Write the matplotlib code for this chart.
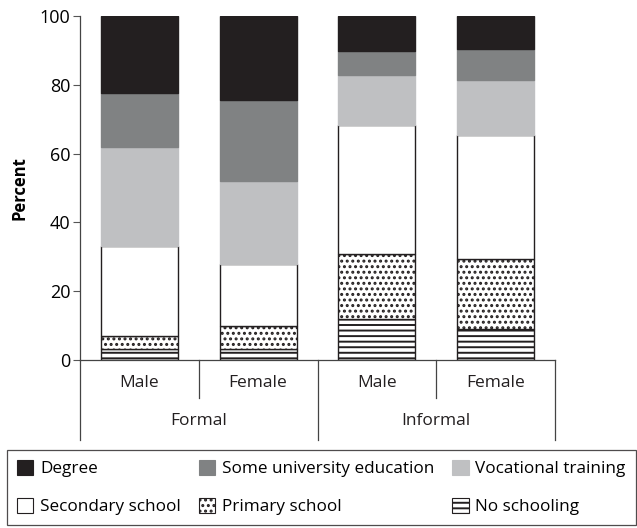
import matplotlib
matplotlib.use("Agg")
import matplotlib.pyplot as plt
from matplotlib.patches import Patch
from matplotlib.lines import Line2D
from matplotlib import font_manager

# ---- data ----
groups = ["Formal", "Informal"]
sexes = ["Male", "Female"]
series_names = ["No schooling", "Primary school", "Secondary school",
                "Vocational training", "Some university education", "Degree"]
no_schooling = [3.2, 3.2, 11.9, 8.9]
primary = [3.9, 6.8, 18.9, 20.4]
secondary = [25.9, 18.0, 37.5, 36.2]
vocational = [29.0, 23.9, 14.5, 16.0]
some_univ = [15.7, 23.8, 7.0, 9.0]
degree = [22.3, 24.3, 10.2, 9.5]
yticks = [0, 20, 40, 60, 80, 100]

# ---- fonts ----
avail = {f.name for f in font_manager.fontManager.ttflist}
fam = "Liberation Sans Narrow" if "Liberation Sans Narrow" in avail else "Open Sans"
plt.rcParams["font.family"] = [fam, "DejaVu Sans"]
plt.rcParams["hatch.linewidth"] = 1.4

fig = plt.figure(figsize=(6.37, 5.28), dpi=100)
W, H = 637, 528
ax = fig.add_axes([80 / W, (H - 360) / H, (555 - 80) / W, (360 - 16) / H])

ink = "#231f20"
values = [no_schooling, primary, secondary, vocational, some_univ, degree]
faces = ["white", "white", "white", "#bfc0c2", "#808283", ink]
edges = [ink, ink, ink, "#bfc0c2", "#808283", ink]
hatches = ["---", "...", None, None, None, None]

x = list(range(4))
bottom = [0.0] * 4
handles = {}
for name, vals, fc, ec, hc in zip(series_names, values, faces, edges, hatches):
    ax.bar(x, vals, width=0.65, bottom=bottom, color=fc, edgecolor=ec,
           hatch=hc, linewidth=1.0, label=name)
    handles[name] = Patch(facecolor=fc, edgecolor=ec if fc != "white" else ink,
                          hatch=hc, linewidth=0.8)
    bottom = [bb + v for bb, v in zip(bottom, vals)]

ax.set_xlim(-0.5, 3.5)
ax.set_ylim(0, 100)
ax.set_yticks(yticks)
ax.tick_params(axis="y", labelsize=13, length=5, width=0.8, color="#555555", pad=2)
ax.set_xticks([])
for s in ["top", "right"]:
    ax.spines[s].set_visible(False)
for s in ["left", "bottom"]:
    ax.spines[s].set_color("#444444")
    ax.spines[s].set_linewidth(0.9)
ax.set_ylabel("Percent", fontsize=12, fontweight="bold", labelpad=8)

# category axis
labels_inner = [s for g in groups for s in sexes]
trans = ax.get_xaxis_transform()
def ypx(p):
    return (360 - p) / (360 - 16)
for i, lab in enumerate(labels_inner):
    ax.text(i, ypx(383), lab, transform=trans, ha="center", va="center",
            fontsize=12.5, color=ink, clip_on=False)
for j, g in enumerate(groups):
    ax.text(2 * j + 0.5, ypx(421), g, transform=trans, ha="center", va="center",
            fontsize=12.5, color=ink, clip_on=False)
for xv in [-0.5, 1.5, 3.5]:
    ax.add_line(Line2D([xv, xv], [0, ypx(440)], transform=trans, color="#444444",
                       lw=0.9, clip_on=False))
for xv in [0.5, 2.5]:
    ax.add_line(Line2D([xv, xv], [0, ypx(398)], transform=trans, color="#444444",
                       lw=0.9, clip_on=False))

# legend (row-wise order)
order = ["Degree", "Secondary school", "Some university education",
         "Primary school", "Vocational training", "No schooling"]
leg = fig.legend([handles[n] for n in order], order, ncol=3,
                 loc="upper left", bbox_to_anchor=(7 / W, (H - 450) / H),
                 frameon=True, fancybox=False, fontsize=12.3,
                 handlelength=0.95, handleheight=0.95, handletextpad=0.4,
                 columnspacing=1.05, labelspacing=1.2, borderpad=0.6,
                 borderaxespad=0)
leg.get_frame().set_edgecolor(ink)
leg.get_frame().set_linewidth(0.9)

fig.savefig("out.png", dpi=100)
